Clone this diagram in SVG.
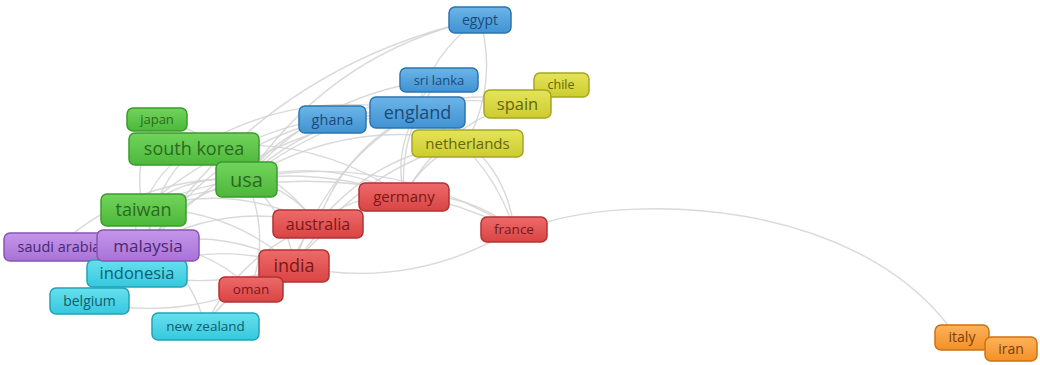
<svg xmlns="http://www.w3.org/2000/svg" width="1040" height="365" viewBox="0 0 1040 365">
<defs>
<linearGradient id="gG" x1="0" y1="0" x2="0" y2="1"><stop offset="0" stop-color="#72d45c"/><stop offset="1" stop-color="#4cb83a"/></linearGradient>
<linearGradient id="gB" x1="0" y1="0" x2="0" y2="1"><stop offset="0" stop-color="#6cb5e8"/><stop offset="1" stop-color="#3f92d2"/></linearGradient>
<linearGradient id="gY" x1="0" y1="0" x2="0" y2="1"><stop offset="0" stop-color="#e4e45a"/><stop offset="1" stop-color="#cccc30"/></linearGradient>
<linearGradient id="gR" x1="0" y1="0" x2="0" y2="1"><stop offset="0" stop-color="#ee6a6a"/><stop offset="1" stop-color="#d94444"/></linearGradient>
<linearGradient id="gP" x1="0" y1="0" x2="0" y2="1"><stop offset="0" stop-color="#c496ea"/><stop offset="1" stop-color="#a872d8"/></linearGradient>
<linearGradient id="gC" x1="0" y1="0" x2="0" y2="1"><stop offset="0" stop-color="#66e0ee"/><stop offset="1" stop-color="#36c8de"/></linearGradient>
<linearGradient id="gO" x1="0" y1="0" x2="0" y2="1"><stop offset="0" stop-color="#fdb25a"/><stop offset="1" stop-color="#f39028"/></linearGradient>
</defs>
<style>
.edges path{fill:none;stroke:#d2d2d2;stroke-width:1.4;stroke-opacity:0.85}
.node rect{stroke-width:1.5}
.node text{font-family:"Open Sans","Liberation Sans",sans-serif;text-anchor:middle}
.g rect{fill:url(#gG);stroke:#3b9a2c}.g text{fill:#2b6a20}
.b rect{fill:url(#gB);stroke:#2c74ae}.b text{fill:#1d4a78}
.y rect{fill:url(#gY);stroke:#a6a622}.y text{fill:#66660e}
.r rect{fill:url(#gR);stroke:#b23232}.r text{fill:#7a1818}
.p rect{fill:url(#gP);stroke:#8556b2}.p text{fill:#4a2870}
.c rect{fill:url(#gC);stroke:#23a2b6}.c text{fill:#115e6c}
.o rect{fill:url(#gO);stroke:#cc7212}.o text{fill:#7a4008}
</style>
<rect width="1040" height="365" fill="#ffffff"/>
<g id="connectors" class="edges">
<path d="M194,149 Q226,154 246,179"/>
<path d="M143,209 Q188.5,173.4 246,179"/>
<path d="M246,179 Q318,111 417,112"/>
<path d="M246,179 Q277,132 332,119"/>
<path d="M246,179 Q328,156 404,196"/>
<path d="M246,179 Q290.5,187.3 317,224"/>
<path d="M246,179 Q390,150.4 514,229"/>
<path d="M246,179 Q287.4,212.9 294,266"/>
<path d="M148,245 Q183.8,192.4 246,179"/>
<path d="M246,179 Q349,116.3 467,142"/>
<path d="M246,179 Q366.3,86.8 517,103"/>
<path d="M246,179 Q322.7,90.9 439,80"/>
<path d="M246,179 Q331,52.2 480,19"/>
<path d="M157,119 Q213.5,131.2 246,179"/>
<path d="M143,209 Q156.5,168.8 194,149"/>
<path d="M194,149 Q298.1,85.9 417,112"/>
<path d="M148,245 Q151.8,187.8 194,149"/>
<path d="M194,149 Q270.5,161.9 317,224"/>
<path d="M194,149 Q308.4,130.5 404,196"/>
<path d="M143,209 Q152.7,226 148,245"/>
<path d="M143,209 Q260.6,105.7 417,112"/>
<path d="M143,209 Q229.9,207.3 294,266"/>
<path d="M143,209 Q233,181.7 317,224"/>
<path d="M137,273 Q127.2,239.8 143,209"/>
<path d="M143,209 Q270.9,150.3 404,196"/>
<path d="M58,246 Q102.8,227.5 148,245"/>
<path d="M148,245 Q225.2,226.3 294,266"/>
<path d="M137,273 Q136.9,256.8 148,245"/>
<path d="M148,245 Q228.3,200.7 317,224"/>
<path d="M148,245 Q255.9,124.7 417,112"/>
<path d="M148,245 Q208.3,246.4 251,289"/>
<path d="M148,245 Q192.7,274.1 205,326"/>
<path d="M148,245 Q214.8,145.2 332,119"/>
<path d="M294,266 Q297.1,240.4 317,224"/>
<path d="M294,266 Q335,209 404,196"/>
<path d="M294,266 Q411.4,291.5 514,229"/>
<path d="M251,289 Q267.9,268.9 294,266"/>
<path d="M137,273 Q214.1,238.1 294,266"/>
<path d="M294,266 Q324.7,164.4 417,112"/>
<path d="M58,246 Q172,303.2 294,266"/>
<path d="M317,224 Q354.9,192.6 404,196"/>
<path d="M317,224 Q344.6,148 417,112"/>
<path d="M205,326 Q240.6,252.6 317,224"/>
<path d="M317,224 Q375.6,153 467,142"/>
<path d="M404,196 Q465.6,190.5 514,229"/>
<path d="M404,196 Q424.7,156.4 467,142"/>
<path d="M404,196 Q393.7,151.4 417,112"/>
<path d="M404,196 Q441.9,126.9 517,103"/>
<path d="M417,112 Q429.9,52.9 480,19"/>
<path d="M417,112 Q421.6,91.6 439,80"/>
<path d="M417,112 Q448,117 467,142"/>
<path d="M332,119 Q373.1,98.5 417,112"/>
<path d="M417,112 Q465.2,87.5 517,103"/>
<path d="M517,103 Q535.9,85 562,85"/>
<path d="M467,142 Q507.9,176.1 514,229"/>
<path d="M148,245 Q268.8,65.6 480,19"/>
<path d="M547,222 C640,195 850,200 948,325"/>
<path d="M961,336 Q985,338 1011,348"/>
<path d="M90,302 Q107.7,278.1 137,273"/>
<path d="M90,302 Q199.2,324.8 294,266"/>
<path d="M205,326 Q237.5,278.2 294,266"/>
<path d="M58,246 Q102.9,243.7 137,273"/>
<path d="M143,209 Q132,161.2 157,119"/>
<path d="M58,246 Q138.6,174.9 246,179"/>
<path d="M467,142 Q498,83 480,19"/>
<path d="M404,196 Q398.3,131 439,80"/>
<path d="M294,266 Q355.7,169.4 467,142"/>
<path d="M417,112 Q488.9,151.1 514,229"/>
<path d="M143,209 Q332.5,144.8 514,229"/>
<path d="M246,179 Q270.5,233 251,289"/>
</g>
<g id="node-japan" class="node g"><rect x="127" y="108" width="60" height="23" rx="6"/><text x="157" y="124" font-size="13">japan</text></g>
<g id="node-south-korea" class="node g"><rect x="129" y="133" width="130" height="32" rx="6"/><text x="194" y="155.3" font-size="18">south korea</text></g>
<g id="node-usa" class="node g"><rect x="216" y="162" width="61" height="35" rx="6"/><text x="246.5" y="186.5" font-size="20">usa</text></g>
<g id="node-taiwan" class="node g"><rect x="101" y="194" width="85" height="32" rx="6"/><text x="143.5" y="216.3" font-size="18">taiwan</text></g>
<g id="node-saudi-arabia" class="node p"><rect x="4" y="233" width="109" height="28" rx="6"/><text x="59" y="252" font-size="14.5">saudi arabia</text></g>
<g id="node-indonesia" class="node c"><rect x="87" y="260" width="100" height="27" rx="6"/><text x="137" y="279.3" font-size="16.5">indonesia</text></g>
<g id="node-malaysia" class="node p"><rect x="97" y="230" width="102" height="31" rx="6"/><text x="148" y="251.5" font-size="17">malaysia</text></g>
<g id="node-belgium" class="node c"><rect x="50" y="288" width="79" height="26" rx="6"/><text x="89.5" y="305.9" font-size="14">belgium</text></g>
<g id="node-new-zealand" class="node c"><rect x="152" y="313" width="107" height="27" rx="6"/><text x="205.5" y="331.2" font-size="13.5">new zealand</text></g>
<g id="node-india" class="node r"><rect x="259" y="250" width="70" height="32" rx="6"/><text x="294" y="272.3" font-size="18">india</text></g>
<g id="node-oman" class="node r"><rect x="219" y="277" width="64" height="25" rx="6"/><text x="251" y="294.2" font-size="13.5">oman</text></g>
<g id="node-australia" class="node r"><rect x="273" y="210" width="90" height="28" rx="6"/><text x="318" y="229.6" font-size="16">australia</text></g>
<g id="node-germany" class="node r"><rect x="359" y="183" width="90" height="28" rx="6"/><text x="404" y="202.3" font-size="15">germany</text></g>
<g id="node-france" class="node r"><rect x="481" y="217" width="66" height="25" rx="6"/><text x="514" y="234.2" font-size="13.5">france</text></g>
<g id="node-netherlands" class="node y"><rect x="412" y="130" width="111" height="27" rx="6"/><text x="467.5" y="148.8" font-size="15">netherlands</text></g>
<g id="node-england" class="node b"><rect x="370" y="97" width="95" height="31" rx="6"/><text x="417.5" y="118.8" font-size="18">england</text></g>
<g id="node-ghana" class="node b"><rect x="299" y="106" width="67" height="27" rx="6"/><text x="332.5" y="124.6" font-size="14.5">ghana</text></g>
<g id="node-sri-lanka" class="node b"><rect x="400" y="68" width="78" height="24" rx="6"/><text x="439" y="84.5" font-size="13">sri lanka</text></g>
<g id="node-egypt" class="node b"><rect x="449" y="7" width="62" height="26" rx="6"/><text x="480" y="24.9" font-size="14">egypt</text></g>
<g id="node-chile" class="node y"><rect x="534" y="73" width="55" height="24" rx="6"/><text x="561" y="89.4" font-size="12.5">chile</text></g>
<g id="node-spain" class="node y"><rect x="484" y="90" width="67" height="28" rx="6"/><text x="517.5" y="109.8" font-size="16.5">spain</text></g>
<g id="node-italy" class="node o"><rect x="935" y="325" width="54" height="25" rx="6"/><text x="962" y="342" font-size="14">italy</text></g>
<g id="node-iran" class="node o"><rect x="985" y="337" width="52" height="24" rx="6"/><text x="1011" y="353.8" font-size="14">iran</text></g>
</svg>
